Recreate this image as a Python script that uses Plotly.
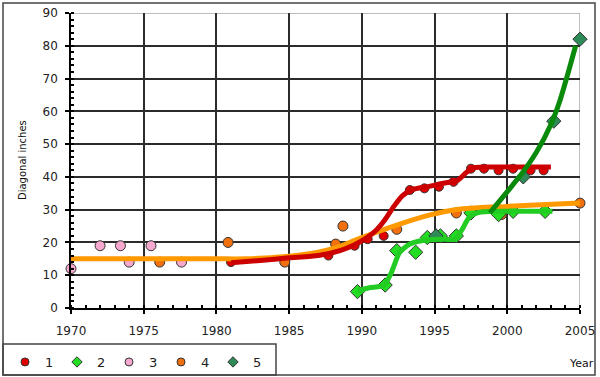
import plotly.graph_objects as go

# ---- data ----
years_ticks = [1970, 1975, 1980, 1985, 1990, 1995, 2000, 2005]
y_ticks = [0, 10, 20, 30, 40, 50, 60, 70, 80, 90]

s1_x = [1981, 1987.7, 1989.5, 1990.4, 1991.5, 1993.3, 1994.3, 1995.3, 1996.3, 1997.5, 1998.4, 1999.4, 2000.4, 2001.6, 2002.5]
s1_y = [14, 16, 19, 21, 22, 36, 36.5, 37, 38.5, 42.5, 42.5, 42, 42.5, 42, 42]
s1_fit_x = [1981, 1983, 1985, 1987, 1988.5, 1989.5, 1990.3, 1991, 1991.6, 1992.2, 1992.8, 1993.5, 1994.5, 1995.5, 1996.6, 1997.1, 1997.6, 1998.5, 2000, 2003]
s1_fit_y = [13.8, 14.5, 15.3, 16, 17.5, 19.3, 21.3, 23.8, 27, 31, 34.3, 36.2, 37, 38, 39, 41, 42.7, 43, 43, 43]

s2_x = [1989.7, 1991.6, 1992.4, 1993.7, 1994.5, 1995.4, 1996.5, 1997.5, 1999.4, 2000.4, 2002.6]
s2_y = [5, 7, 17.5, 17, 21.5, 22, 22, 29, 28.5, 29.5, 29.5]
s2_fit_x = [1989.7, 1990.5, 1991.5, 1992.0, 1992.6, 1993.3, 1994.2, 1995.4, 1996.4, 1996.9, 1997.4, 1998.1, 2000, 2003.1]
s2_fit_y = [5.2, 6.2, 6.8, 10.5, 17, 19.5, 20.6, 21, 21, 24, 27.8, 29.2, 29.5, 29.5]

s3_x = [1970, 1972, 1973.4, 1974, 1975.5, 1977.6]
s3_y = [12, 19, 19, 14, 19, 14]

s4_x = [1976.1, 1980.8, 1984.7, 1988.2, 1988.7, 1992.4, 1996.5, 1999.6, 2005]
s4_y = [14, 20, 14, 19.5, 25, 24, 29, 28.5, 32]
s4_fit_x = [1970, 1975, 1980, 1982, 1985, 1987, 1988.5, 1990, 1992.4, 1994.7, 1996.4, 1998, 2000, 2005]
s4_fit_y = [15, 15, 15, 15, 15.8, 17, 18.8, 21.5, 25.3, 28.4, 30, 30.6, 31, 32]

s5_x = [1995.1, 2001.1, 2003.2, 2005]
s5_y = [22, 40, 57, 82]
s5_fit_x = [1998.8, 2000, 2001, 2002, 2003, 2003.6, 2004.2, 2004.7]
s5_fit_y = [29, 35.5, 41, 47.5, 56, 63, 72, 80]

names = ["1", "2", "3", "4", "5"]
marker_colors = ["#e00000", "#22dd22", "#f7a8cf", "#f07010", "#2e8b57"]
marker_symbols = ["circle", "diamond", "circle", "circle", "diamond"]
line_colors = ["#cc0000", "#22cc22", None, "#ff9900", "#0a8a0a"]

# ---- helpers for pixel -> paper conversion (plot area 71..580 x 13..308) ----
L, R, T, B = 71, 580, 13, 308
def px(p):
    return (p - L) / (R - L)
def py(p):
    return (B - p) / (B - T)

fig = go.Figure()
outline = dict(color="#333333", width=1)

# markers
for xs, ys, i, size in [(s3_x, s3_y, 2, 10), (s4_x, s4_y, 3, 10), (s1_x, s1_y, 0, 9),
                        (s2_x, s2_y, 1, 11), (s5_x, s5_y, 4, 11)]:
    fig.add_trace(go.Scatter(x=xs, y=ys, mode="markers", showlegend=False, cliponaxis=False,
                             marker=dict(color=marker_colors[i], symbol=marker_symbols[i],
                                         size=size, line=outline)))

# fitted lines
for xs, ys, i in [(s4_fit_x, s4_fit_y, 3), (s1_fit_x, s1_fit_y, 0),
                  (s2_fit_x, s2_fit_y, 1), (s5_fit_x, s5_fit_y, 4)]:
    fig.add_trace(go.Scatter(x=xs, y=ys, mode="lines", showlegend=False, cliponaxis=False,
                             line=dict(color=line_colors[i], width=5, shape="spline", smoothing=0.6)))

# legend entries
for i in range(5):
    fig.add_trace(go.Scatter(x=[None], y=[None], mode="markers", name=names[i],
                             marker=dict(color=marker_colors[i], symbol=marker_symbols[i],
                                         size=8, line=outline)))

axis_font = dict(family="DejaVu Sans", size=12, color="#222222")
fig.update_layout(
    width=600, height=377,
    margin=dict(l=L, r=600 - R, t=T, b=377 - B, autoexpand=False),
    paper_bgcolor="white", plot_bgcolor="white",
    font=dict(family="DejaVu Sans", size=12, color="#222222"),
    xaxis=dict(range=[1970, 2005], tickvals=years_ticks, showgrid=True, automargin=False,
               gridcolor="#2b2b2b", gridwidth=1.5, showline=True, linecolor="black",
               linewidth=1.5, ticks="outside", ticklen=4, tickcolor="black", tickwidth=1.5,
               ticklabelstandoff=7, zeroline=False, tickfont=axis_font,
               minor=dict(dtick=1, ticks="inside", ticklen=3, tickcolor="black", showgrid=False)),
    yaxis=dict(range=[0, 90], tickvals=y_ticks, showgrid=True, automargin=False,
               gridcolor="#2b2b2b", gridwidth=1.5, showline=True, linecolor="black",
               linewidth=1.5, ticks="outside", ticklen=4, tickcolor="black", tickwidth=1.5,
               ticklabelstandoff=5, zeroline=False, tickfont=axis_font,
               minor=dict(dtick=2, ticks="inside", ticklen=3, tickcolor="black", showgrid=False)),
    legend=dict(orientation="h", x=px(5), y=py(347), xanchor="left", yanchor="top",
                bgcolor="rgba(0,0,0,0)", borderwidth=0, font=dict(size=13),
                entrywidth=7, entrywidthmode="pixels", itemwidth=30),
    shapes=[
        # outer frame
        dict(type="rect", xref="paper", yref="paper", x0=px(3), x1=px(595), y0=py(3), y1=py(375),
             line=dict(color="#444444", width=1.5), layer="below"),
        # legend box
        dict(type="rect", xref="paper", yref="paper", x0=px(3), x1=px(276), y0=py(344), y1=py(375),
             line=dict(color="#444444", width=1.5), layer="below"),
        # light top and right edges
        dict(type="line", xref="x", yref="y", x0=1970, x1=2005, y0=90, y1=90,
             line=dict(color="#a8a8a8", width=1.5), layer="below"),
        dict(type="line", xref="x", yref="y", x0=2005, x1=2005, y0=0, y1=90,
             line=dict(color="#a8a8a8", width=1.5), layer="below"),
    ],
    annotations=[
        dict(text="Diagonal inches", xref="paper", yref="paper", x=px(22), y=py(160),
             xanchor="center", yanchor="middle",
             textangle=-90, showarrow=False, font=dict(size=10, color="#111111")),
        dict(text="Year", xref="paper", yref="paper", x=px(581), y=py(363),
             xanchor="center", yanchor="middle",
             showarrow=False, font=dict(size=11, color="#111111")),
    ],
)

fig.write_html("out.html")
